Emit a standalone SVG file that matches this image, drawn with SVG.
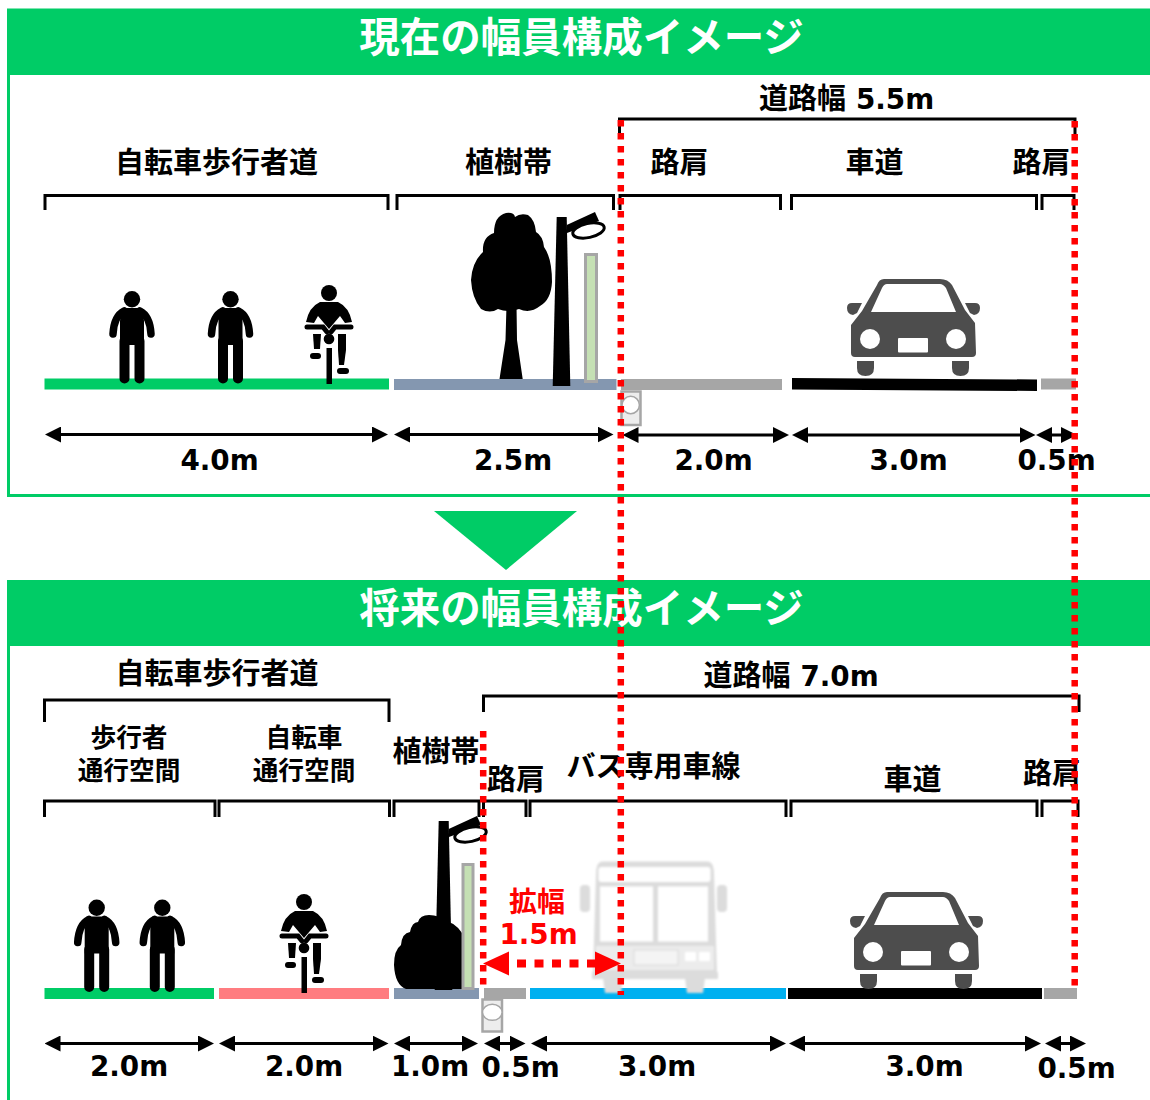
<svg xmlns="http://www.w3.org/2000/svg" width="1150" height="1100" viewBox="0 0 1150 1100">
<style>
.jp{font-family:"Noto Sans CJK JP","Noto Sans CJK SC",sans-serif;font-weight:700;text-anchor:middle;fill:#000}
.l{font-size:29px}.s{font-size:25.700px}
.head{font-size:40.500px;fill:#fff}
.dim{font-family:"DejaVu Sans",sans-serif;font-weight:700;font-size:27.800px;text-anchor:middle;fill:#000}
.br{fill:none;stroke:#000;stroke-width:3}
.ar{stroke:#000;stroke-width:3;marker-start:url(#tri);marker-end:url(#tri)}
.red{fill:none;stroke:#f00;stroke-width:6.5;stroke-dasharray:6.5 6.5}
.plant{fill:#c5e0b4;stroke:#a6a6a6;stroke-width:3}
.drain{fill:#ededed;stroke:#a6a6a6;stroke-width:2.5}
.hole{fill:#fff;stroke:#a6a6a6;stroke-width:1.5}
.g{fill:#a6a6a6}.sl{fill:#8497b0}.gr{fill:#00cc66}
</style>
<defs>
<marker id="tri" markerUnits="userSpaceOnUse" markerWidth="16" markerHeight="16" refX="6" refY="8" orient="auto-start-reverse"><path d="M0,0L16,8L0,16Z" fill="#000"/></marker>
<g id="person" fill="#000" stroke="#000" stroke-linecap="round">
<circle cx="0" cy="8.2" r="8.2" stroke="none"/>
<path d="M-10,17L10,17L12,30L12,54L-12,54L-12,30Z" stroke="none"/>
<path d="M8,20Q18,25 19,43M-8,20Q-18,25 -19,43" fill="none" stroke-width="7.5"/>
<path d="M-7.500,50L-7.500,87.500M7.500,50L7.500,87.500" fill="none" stroke-width="10"/>
</g>
<g id="bike" fill="#000">
<circle cx="329" cy="293" r="8"/>
<path d="M320,302L338,302Q349,307 352,322L345,323L340,316L329,329L318,316L314,323L306,322Q309,307 320,302Z"/>
<path d="M307,327L323,327L327,332M351,327L335,327L331,332" fill="none" stroke="#000" stroke-width="5" stroke-linecap="round"/>
<circle cx="329" cy="339" r="5.300"/>
<rect x="326.500" y="348" width="5.500" height="36"/>
<path d="M313,334L321,334L320,349L314,349Z"/>
<rect x="310" y="353" width="11" height="6" rx="3"/>
<path d="M338,334L346,334L346,350L344,365L339,365L338,350Z"/>
<rect x="337" y="368" width="12" height="6" rx="3"/>
</g>
<g id="car" fill="#4d4d4d">
<path fill-rule="evenodd" d="M37,0L93,0Q101,0 105,6L118,31L128,44L129,74Q129,78 125,78L8,78Q4,78 4,74L4,46L15,32L30,6Q32,0 37,0ZM40,5Q37,5 35,9L24,33L109,33L99,9Q96,5 93,5Z"/>
<path d="M15,24L5,24Q0,24 0,29Q0,35 6,36L10,34ZM118,24L128,24Q133,24 133,29Q133,35 127,36L123,34Z"/>
<circle cx="23" cy="60" r="10" fill="#fff"/><circle cx="109" cy="60" r="10" fill="#fff"/>
<rect x="51" y="59" width="30" height="14.500" rx="1" fill="#fff"/>
<path d="M10,82L27,82L27,89Q27,97 18.500,97Q10,97 10,89ZM105,82L122,82L122,89Q122,97 113.500,97Q105,97 105,89Z"/>
</g>
<g id="lamp">
<path d="M556.700,217L566.700,217L570.300,386L552.700,386Z" fill="#000"/>
<path d="M566.700,225L595,212L599,221L567,233Z" fill="#000"/>
<ellipse cx="588.500" cy="230.500" rx="16" ry="7" transform="rotate(-12 588.500 230.500)" fill="#fff" stroke="#000" stroke-width="3"/>
</g>
<filter id="soft" x="-5%" y="-5%" width="110%" height="110%"><feGaussianBlur stdDeviation="1"/></filter>
</defs>
<rect width="1150" height="1100" fill="#fff"/>

<g id="panel-current">
<rect class="gr" x="7" y="8.500" width="1143" height="66.500"/>
<path d="M8.500,75L8.500,495.500L1150,495.500" fill="none" stroke="#00cc66" stroke-width="3"/>
<text class="jp head" x="581.500" y="52">現在の幅員構成イメージ</text>
</g>
<path id="down-arrow" class="gr" d="M434,511L577,511L506,570Z"/>
<g id="panel-future">
<rect class="gr" x="7" y="580" width="1143" height="66"/>
<path d="M8.500,646L8.500,1100" fill="none" stroke="#00cc66" stroke-width="3"/>
<text class="jp head" x="581.500" y="623">将来の幅員構成イメージ</text>
</g>

<g id="surfaces">
<rect class="gr" x="44.500" y="378.500" width="344.500" height="11"/>
<rect class="sl" x="394" y="379" width="222.500" height="11"/>
<rect class="g" x="621" y="379" width="161" height="11"/>
<path d="M792,378L1037,379.500L1037,391L792,389.500Z" fill="#000"/>
<rect class="g" x="1041" y="378.500" width="35" height="11"/>
<rect class="gr" x="44.500" y="988" width="169.500" height="11"/>
<rect x="219" y="988" width="170" height="11" fill="#ff7c80"/>
<rect class="sl" x="394" y="988" width="85" height="11"/>
<rect class="g" x="484" y="988" width="42" height="11"/>
<rect x="530" y="988" width="256" height="11" fill="#00b0f0"/>
<rect x="788" y="988" width="254" height="11" fill="#000"/>
<rect class="g" x="1044" y="988" width="33" height="11"/>
</g>

<g id="people-current">
<use href="#person" transform="translate(132,291)"/>
<use href="#person" transform="translate(230.500,291)"/>
<use href="#bike"/>
</g>
<g id="people-future">
<use href="#person" transform="translate(96.700,899.500)"/>
<use href="#person" transform="translate(162.300,899.500)"/>
<use href="#bike" transform="translate(-25,609)"/>
</g>

<g id="tree-current" fill="#000">
<path d="M506,213Q514,212 515,217Q520,213 528,215Q535,220 536,232Q543,236 544,247Q552,258 552,282Q551,300 540,306Q530,314 519,309Q508,313 498,309Q490,314 481,309Q472,298 471,280Q472,262 483,252Q482,237 494,233Q494,216 506,213Z"/>
<path d="M506.500,305L516.500,305L517,340L522.700,379L499.500,379L505.500,340Z"/>
</g>
<use id="lamp-current" href="#lamp"/>
<rect id="planter-current" class="plant" x="585.500" y="254.500" width="11" height="127"/>
<g id="drain-current"><rect class="drain" x="621.500" y="391.500" width="19" height="33.500"/><circle class="hole" cx="630.700" cy="405" r="8.700"/></g>

<path id="shrub-future" fill="#000" d="M429,915Q440,915 443,921Q454,921 462,933L462,989L406,989Q395,985 394,965Q394,950 401,945Q402,933 410,932Q412,922 418,922Q420,915 429,915Z"/>
<use id="lamp-future" href="#lamp" transform="translate(-118,604)"/>
<rect id="planter-future" class="plant" x="463" y="864.500" width="10" height="124"/>
<g id="drain-future"><rect class="drain" x="482.500" y="999.500" width="19.500" height="32"/><ellipse class="hole" cx="492.300" cy="1012.300" rx="9.800" ry="8"/></g>

<g id="car-current"><use href="#car" transform="translate(847,279)"/></g>
<g id="car-future"><use href="#car" transform="translate(850,892)"/></g>

<g id="bus" filter="url(#soft)">
<rect x="580" y="885" width="10" height="27" rx="4" fill="#dcdcdc"/>
<rect x="717" y="885" width="10" height="27" rx="4" fill="#dcdcdc"/>
<path d="M602,861.500L708,861.500Q714,862 714,874L717,975L593,975L596,874Q596,862 602,861.500Z" fill="#dcdcdc"/>
<rect x="598.500" y="867" width="112" height="15" rx="3" fill="#fff"/>
<rect x="600" y="886.500" width="53" height="55" fill="#fff"/>
<rect x="658" y="886.500" width="50" height="55" fill="#fff"/>
<rect x="596" y="946" width="118" height="24" fill="#ececec"/>
<rect x="634" y="950" width="44" height="15" fill="#f4f4f4" stroke="#d8d8d8"/>
<rect x="685" y="952" width="11" height="9" fill="#fff"/><rect x="699" y="952" width="11" height="9" fill="#fff"/>
<rect x="592" y="972" width="126" height="7" fill="#dcdcdc"/>
<path d="M603,978H623L621,993H605ZM685,978H705L703,993H687Z" fill="#dcdcdc"/>
</g>

<g id="brackets">
<path class="br" d="M45,210V195.500H388V210"/>
<path class="br" d="M397,210V195.500H613.500V210"/>
<path class="br" d="M620,210V195.500H780.500V210"/>
<path class="br" d="M791.500,210V195.500H1036.500V210"/>
<path class="br" d="M1042,210V195.500H1074V210"/>
<path class="br" d="M619.500,135V119H1075V135"/>
<path class="br" d="M44.500,722V700H389V722"/>
<path class="br" d="M483.500,712V696H1079V712"/>
<path class="br" d="M44.500,817V801H215V817"/>
<path class="br" d="M219,817V801H389.500V817"/>
<path class="br" d="M394,817V801H479V817"/>
<path class="br" d="M483.500,817V801H526V817"/>
<path class="br" d="M530,817V801H786V817"/>
<path class="br" d="M791,817V801H1037V817"/>
<path class="br" d="M1042,817V801H1078V817"/>
</g>

<g id="dimension-arrows">
<line class="ar" x1="55" y1="434.500" x2="378" y2="434.500"/>
<line class="ar" x1="404" y1="434.500" x2="603.500" y2="434.500"/>
<line class="ar" x1="632.500" y1="435" x2="779" y2="435"/>
<line class="ar" x1="802" y1="435" x2="1025.500" y2="435"/>
<line class="ar" x1="1046" y1="435" x2="1067" y2="435"/>
<line class="ar" x1="54.500" y1="1043.500" x2="204" y2="1043.500"/>
<line class="ar" x1="229" y1="1043.500" x2="378.500" y2="1043.500"/>
<line class="ar" x1="404" y1="1043.500" x2="468" y2="1043.500"/>
<line class="ar" x1="494" y1="1043.500" x2="515.500" y2="1043.500"/>
<line class="ar" x1="541" y1="1043.500" x2="776" y2="1043.500"/>
<line class="ar" x1="799" y1="1043.500" x2="1031" y2="1043.500"/>
<line class="ar" x1="1055" y1="1043.500" x2="1076" y2="1043.500"/>
</g>

<g id="labels">
<text class="jp l" x="216.500" y="173">自転車歩行者道</text>
<text class="jp l" x="508.500" y="173">植樹帯</text>
<text class="jp l" x="679.500" y="173">路肩</text>
<text class="jp l" x="874.500" y="173">車道</text>
<text class="jp l" x="1041.500" y="173">路肩</text>
<text class="jp l" x="802.500" y="109">道路幅</text>
<text class="dim" x="895" y="109">5.5m</text>
<text class="dim" x="219.500" y="470">4.0m</text>
<text class="dim" x="513" y="470">2.5m</text>
<text class="dim" x="713.500" y="470">2.0m</text>
<text class="dim" x="908.500" y="470">3.0m</text>
<text class="dim" x="1056.500" y="470">0.5m</text>

<text class="jp l" x="217" y="684">自転車歩行者道</text>
<text class="jp l" x="747" y="686">道路幅</text>
<text class="dim" x="839.500" y="686">7.0m</text>
<text class="jp s" x="129" y="747">歩行者</text>
<text class="jp s" x="129" y="780">通行空間</text>
<text class="jp s" x="304" y="747">自転車</text>
<text class="jp s" x="304" y="780">通行空間</text>
<text class="jp l" x="436" y="762">植樹帯</text>
<text class="jp l" x="516" y="790">路肩</text>
<text class="jp l" x="653.500" y="777">バス専用車線</text>
<text class="jp l" x="912.500" y="790">車道</text>
<text class="jp l" x="1052" y="784">路肩</text>
<text class="dim" x="129" y="1076">2.0m</text>
<text class="dim" x="304" y="1076">2.0m</text>
<text class="dim" x="430" y="1076">1.0m</text>
<text class="dim" x="520.500" y="1077">0.5m</text>
<text class="dim" x="657" y="1076">3.0m</text>
<text class="dim" x="924.500" y="1076">3.0m</text>
<text class="dim" x="1076.500" y="1078">0.5m</text>
<text class="jp" x="537" y="912" style="font-size:28px;fill:#f00">拡幅</text>
<text class="dim" x="538.500" y="944" style="fill:#f00">1.5m</text>
</g>

<g id="expansion-guides">
<line class="red" x1="620.800" y1="120" x2="620.800" y2="995"/>
<line class="red" x1="1074.700" y1="121" x2="1074.700" y2="991"/>
<line class="red" x1="483.200" y1="731" x2="483.200" y2="990"/>
<line x1="517" y1="963.500" x2="600" y2="963.500" stroke="#f00" stroke-width="8" stroke-dasharray="9 8.500"/>
<path d="M483,963.500L509,951.500L509,975.500Z" fill="#f00"/>
<path d="M621,963.500L595,951.500L595,975.500Z" fill="#f00"/>
</g>
</svg>
